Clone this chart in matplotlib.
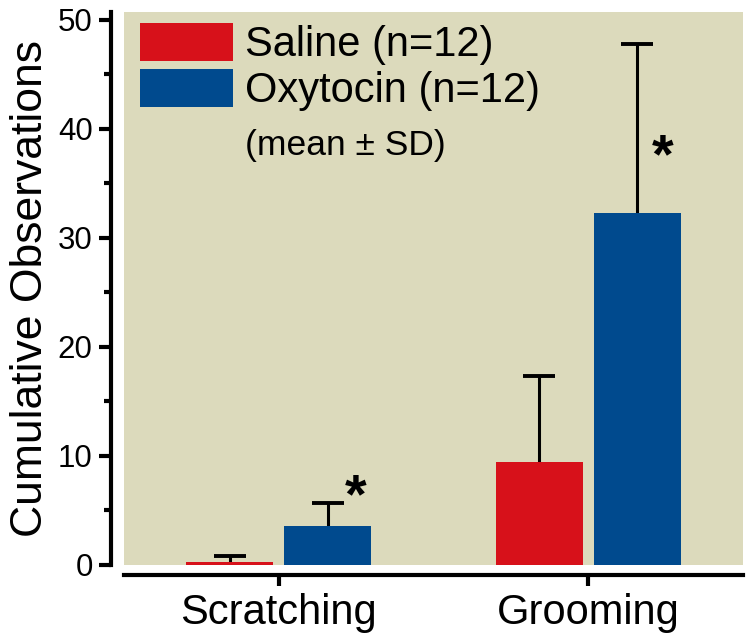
import numpy as np
import matplotlib.pyplot as plt
from matplotlib.patches import Patch

plt.rcParams['font.family'] = ['Liberation Sans', 'DejaVu Sans']

# data
behaviours = ['Scratching', 'Grooming']
groups = ['Saline (n=12)', 'Oxytocin (n=12)']
saline_mean = np.array([0.3, 9.4])
saline_sd = np.array([0.5, 7.9])
oxy_mean = np.array([3.6, 32.3])
oxy_sd = np.array([2.1, 15.5])
y_ticks = [0, 10, 20, 30, 40, 50]

red = '#d7111a'
blue = '#004a8e'
bg = '#dcdabc'

fig = plt.figure(figsize=(7.5, 6.4), dpi=100)
ax = fig.add_axes([0.1653, 0.1172, 0.8254, 0.8641])
ax.set_facecolor(bg)

x = np.arange(len(behaviours))
w = 0.28
off = 0.158

for xs, m, sd, col in [(x - off, saline_mean, saline_sd, red),
                       (x + off, oxy_mean, oxy_sd, blue)]:
    ax.bar(xs, m, w, color=col, zorder=2)
    # upper half of the error bar only, with a cap at the top
    ax.errorbar(xs, m, yerr=[np.zeros_like(sd), sd], fmt='none',
                ecolor='black', elinewidth=2.2, capsize=0, zorder=1)
    ax.plot(xs, m + sd, ls='none', marker='_', ms=23, mew=2.8,
            color='black', zorder=3)

# significance markers
ax.text(0.247, 6.1, '*', fontsize=40, fontweight='bold', ha='center', va='center')
ax.text(1.24, 37.3, '*', fontsize=40, fontweight='bold', ha='center', va='center')

ax.set_xlim(-0.5, 1.5)
ax.set_ylim(0, 50.7)
ax.set_ylabel('Cumulative Observations', fontsize=32, labelpad=5)

for s in ['top', 'right']:
    ax.spines[s].set_visible(False)
ax.spines['left'].set_position(('outward', 9.5))
ax.spines['bottom'].set_position(('outward', 7))
ax.spines['left'].set_linewidth(3)
ax.spines['bottom'].set_linewidth(3)

ax.set_xticks(x)
ax.set_xticklabels(behaviours)
ax.set_yticks(y_ticks)
ax.set_yticks(np.arange(5, 50, 10), minor=True)
ax.tick_params(axis='y', labelsize=22.5, width=3, length=9, direction='out', pad=4)
ax.tick_params(axis='y', which='minor', width=3, length=5, direction='out')
ax.tick_params(axis='x', labelsize=30, width=3, length=8, direction='out', pad=5)

handles = [Patch(facecolor=red), Patch(facecolor=blue)]
ax.legend(handles, groups, loc='upper left', bbox_to_anchor=(0.012, 0.995),
          frameon=False, fontsize=30, handlelength=2.23, handleheight=1.03,
          handletextpad=0.3, labelspacing=0.08, borderaxespad=0.0, borderpad=0.2)
ax.text(245, 640 - 145, '(mean \u00b1 SD)', transform=None, fontsize=25.5,
        ha='left', va='center')

fig.savefig('out.png', dpi=100)
